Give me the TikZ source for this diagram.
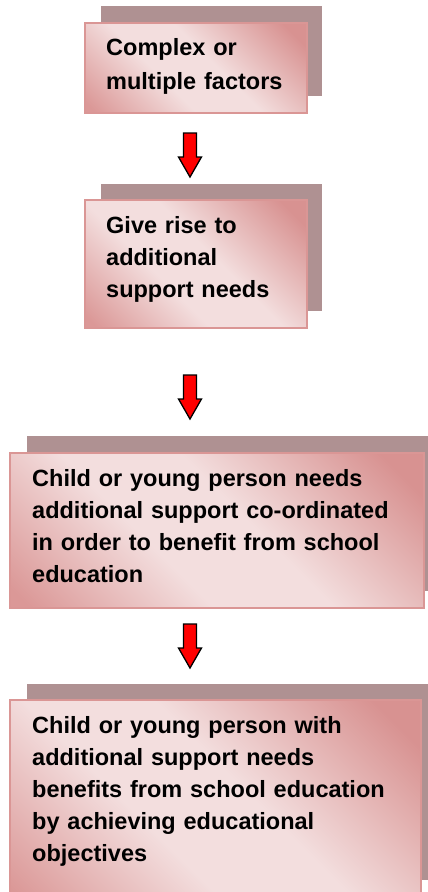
\documentclass[tikz,border=0pt]{standalone}
\usepackage{fontspec}
\setmainfont{Liberation Sans}
\definecolor{shadowc}{RGB}{175,145,146}
\definecolor{darkpink}{RGB}{216,146,145}
\definecolor{midpink}{RGB}{219,152,151}
\definecolor{lightpink}{RGB}{243,222,222}
\definecolor{borderc}{RGB}{218,150,149}
\pgfdeclareverticalshading{boxshade}{100bp}{color(0bp)=(midpink); color(17bp)=(midpink); color(40bp)=(lightpink); color(55bp)=(lightpink); color(80bp)=(darkpink); color(100bp)=(darkpink)}
\begin{document}
\begin{tikzpicture}[x=1pt,y=-1pt,
  shadowbox/.style={rectangle,fill=shadowc,draw=none,inner sep=0pt,anchor=north west},
  mainbox/.style={rectangle,draw=borderc,line width=2pt,inner sep=0pt,anchor=north west,
     shading=boxshade,shading angle=-45},
  txt/.style={anchor=base west,inner sep=0pt,text width=400pt,align=left,font=\bfseries\fontsize{23.5}{32}\selectfont},
  downarrow/.pic={\draw[fill=red,draw=black,line width=1.3pt,line join=miter]
     (-6.5,0) -- (6.5,0) -- (6.5,24) -- (11.5,24) -- (0,44) -- (-11.5,24) -- (-6.5,24) -- cycle;}
]
\useasboundingbox (0,0) rectangle (428,892);
\clip (0,0) rectangle (428,892);
\fill[white] (0,0) rectangle (428,892);
% box 1
\node[shadowbox,minimum width=221pt,minimum height=90pt] (s1) at (101,6) {};
\node[mainbox,minimum width=222pt,minimum height=90pt] (b1) at (84,22) {};
\node[txt,font=\bfseries\fontsize{23.5}{34}\selectfont] (t1) at (106,55) {Complex or\\multiple factors};
% arrow 1
\pic (a1) at (190,133) {downarrow};
% box 2
\node[shadowbox,minimum width=221pt,minimum height=127pt] (s2) at (101,184) {};
\node[mainbox,minimum width=222pt,minimum height=128pt] (b2) at (84,199) {};
\node[txt] (t2) at (106,233) {Give rise to\\additional\\support needs};
% arrow 2
\pic (a2) at (190,375) {downarrow};
% box 3
\node[shadowbox,minimum width=414pt,minimum height=155pt] (s3) at (27,436) {};
\node[mainbox,minimum width=414pt,minimum height=155pt] (b3) at (9,452) {};
\node[txt] (t3) at (32,486) {Child or young person needs\\additional support co-ordinated\\in order to benefit from school\\education};
% arrow 3
\pic (a3) at (190,624) {downarrow};
% box 4
\node[shadowbox,minimum width=411pt,minimum height=196pt] (s4) at (27,684) {};
\node[mainbox,minimum width=411pt,minimum height=210pt] (b4) at (9,699) {};
\node[txt] (t4) at (32,733) {Child or young person with\\additional support needs\\benefits from school education\\by achieving educational\\objectives};
\end{tikzpicture}
\end{document}
